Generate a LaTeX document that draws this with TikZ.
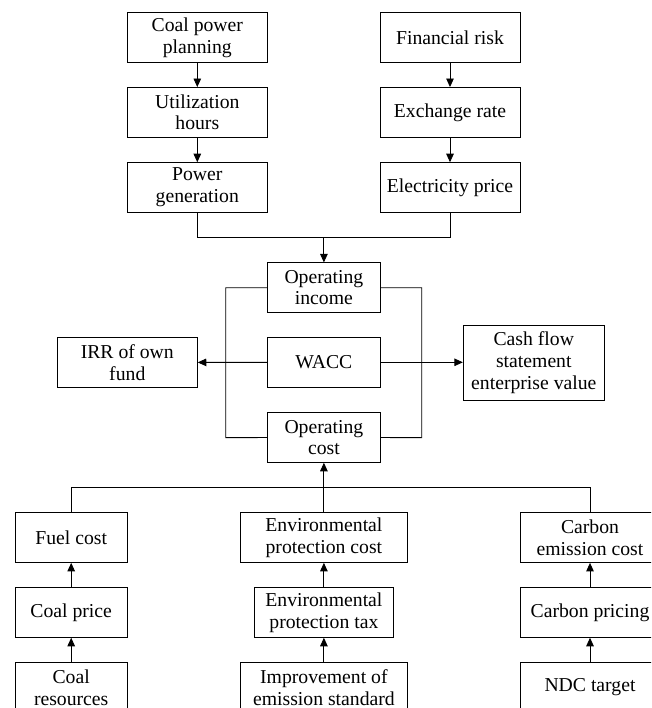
\documentclass[tikz,border=0pt]{standalone}
\usepackage{fontspec}
\setmainfont{Liberation Serif}
\usetikzlibrary{arrows.meta}
\begin{document}
\begin{tikzpicture}[x=1pt,y=-1pt,
  box/.style={draw, line width=0.9pt, minimum height=49.6pt, align=center, inner sep=0pt,
    font=\fontsize{19.7}{21.7}\selectfont},
  conn/.style={line width=0.9pt},
  arr/.style={line width=0.9pt, -{Triangle[length=8.5pt,width=7.5pt]}}]
\clip (0,0) rectangle (651,708);
\fill[white] (0,0) rectangle (651,708);
% top columns
\node[box, minimum width=140pt] (cpp) at (197.3,37.5) {Coal power\\planning};
\node[box, minimum width=140pt] (uh) at (197.3,112.3) {Utilization\\hours};
\node[box, minimum width=140pt] (pg) at (197.3,187.5) {Power\\generation};
\node[box, minimum width=140pt] (fr) at (450,37.5) {Financial risk};
\node[box, minimum width=140pt] (er) at (450,112.3) {Exchange rate};
\node[box, minimum width=140pt] (ep) at (450,187.5) {Electricity price};
% middle
\node[box, minimum width=112.3pt] (oi) at (323.9,287.7) {Operating\\income};
\node[box, minimum width=112.3pt] (wacc) at (323.9,362.3) {WACC};
\node[box, minimum width=112.3pt] (oc) at (323.9,437.5) {Operating\\cost};
\node[box, minimum width=140pt] (irr) at (127.3,362.4) {IRR of own\\fund};
\node[box, minimum width=141pt, minimum height=74.7pt] (cf) at (533.8,362.6) {Cash flow\\statement\\enterprise value};
% bottom columns
\node[box, minimum width=112.3pt] (fc) at (71.2,537.6) {Fuel cost};
\node[box, minimum width=112.3pt] (cp) at (71.2,612.5) {Coal price};
\node[box, minimum width=112.3pt] (cr) at (71.2,687.5) {Coal\\resources};
\node[box, minimum width=167.7pt] (epc) at (323.9,537.6) {Environmental\\protection cost};
\node[box, minimum width=139.7pt] (ept) at (323.9,612.5) {Environmental\\protection tax};
\node[box, minimum width=167.7pt] (ies) at (323.9,687.5) {Improvement of\\emission standard};
\node[box, minimum width=140pt] (cec) at (590,537.6) {Carbon\\emission cost};
\node[box, minimum width=140pt] (cpr) at (590,612.5) {Carbon pricing};
\node[box, minimum width=140pt] (ndc) at (590,687.5) {NDC target};
% helper coordinates
\coordinate (jt) at (323.9,237.3);
\coordinate (jb) at (323.9,487.5);
\coordinate (ltop) at (225.7,287.7);
\coordinate (lbot) at (225.7,437.7);
\coordinate (rtop) at (421.7,287.7);
\coordinate (rbot) at (421.7,437.7);
% top connectors
\draw[arr] (cpp) -- (uh);
\draw[arr] (uh) -- (pg);
\draw[arr] (fr) -- (er);
\draw[arr] (er) -- (ep);
\draw[conn] (pg.south) -- (pg.south |- jt) -- (ep.south |- jt) -- (ep.south);
\draw[arr] (jt) -- (oi.north);
% loop
\draw[conn] (oi.west) -- (ltop) -- (lbot) -- (oc.west);
\draw[conn] (oi.east) -- (rtop) -- (rbot) -- (oc.east);
% WACC outputs
\draw[arr] (wacc.west) -- (irr.east);
\draw[arr] (wacc.east) -- (cf.west |- wacc.east);
% bottom connectors
\draw[conn] (fc.north) -- (fc.north |- jb) -- (cec.north |- jb) -- (cec.north);
\draw[arr] (epc.north) -- (oc.south);
\draw[arr] (cp) -- (fc);
\draw[arr] (cr) -- (cp);
\draw[arr] (ept) -- (epc);
\draw[arr] (ies) -- (ept);
\draw[arr] (cpr) -- (cec);
\draw[arr] (ndc) -- (cpr);
\end{tikzpicture}
\end{document}
